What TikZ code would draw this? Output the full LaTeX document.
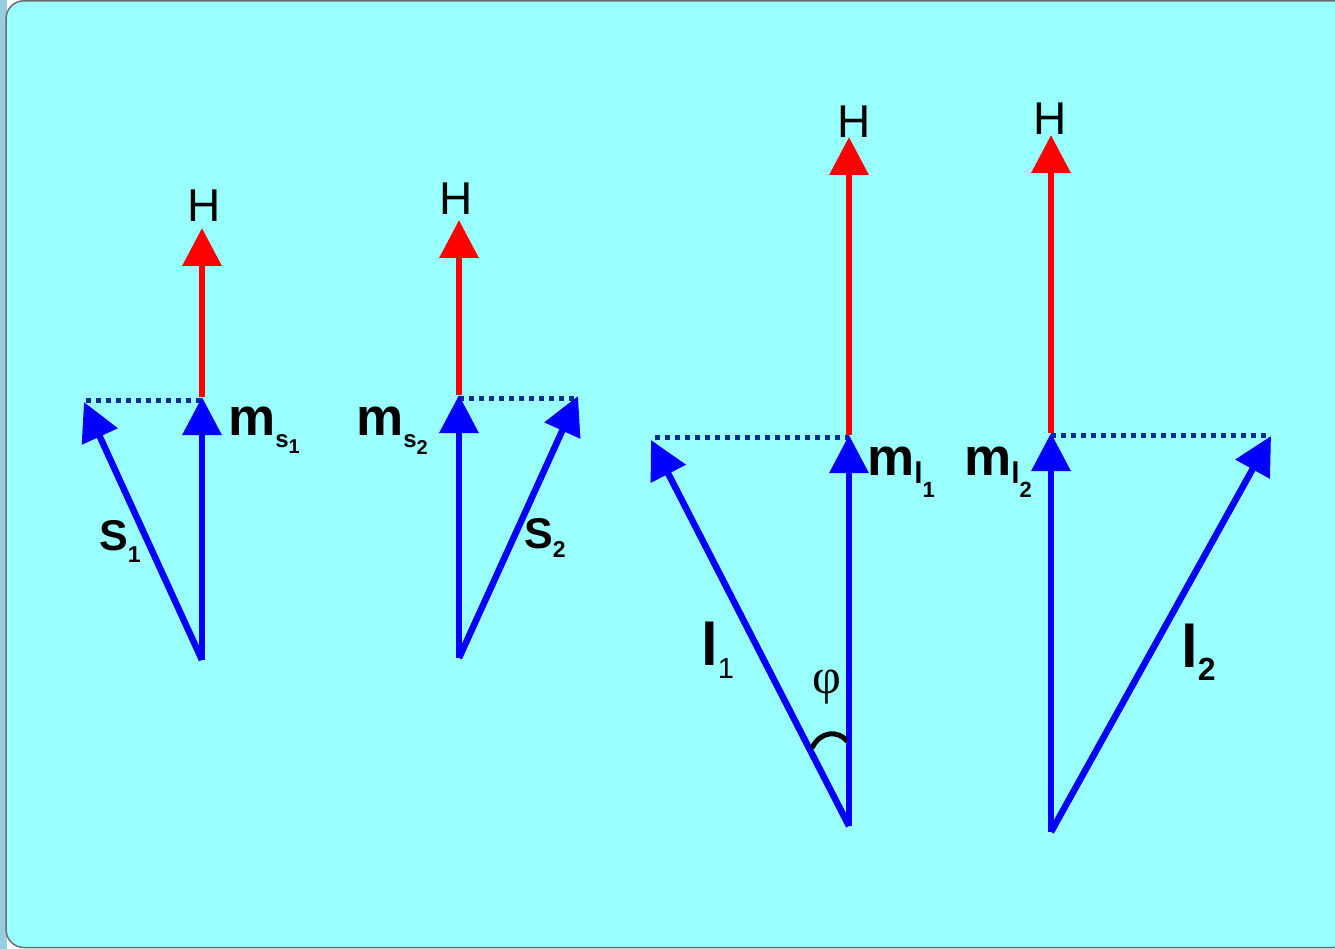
\documentclass[tikz,border=0pt]{standalone}
\usepackage{fontspec}
\setmainfont{Liberation Sans}
\newfontfamily\phifont{Liberation Serif}
\usetikzlibrary{arrows.meta}
\definecolor{bg}{RGB}{153,255,255}
\definecolor{vblue}{RGB}{0,0,255}
\definecolor{hred}{RGB}{255,0,0}
\definecolor{dotblue}{RGB}{0,45,150}
\definecolor{strip}{RGB}{150,205,225}
\definecolor{frame}{RGB}{110,110,110}
\newcommand{\fsz}[1]{\fontsize{#1}{#1}\selectfont}
\begin{document}
\begin{tikzpicture}[x=1pt,y=-1pt,
  vec/.style={line width=6.5pt,-{Triangle[width=38pt,length=38pt]}},
  bvec/.style={vec,draw=vblue,fill=vblue},
  rvec/.style={vec,draw=hred,fill=hred},
  proj/.style={draw=dotblue,line width=5pt,dash pattern=on 5pt off 5pt},
  lbl/.style={inner sep=0pt,anchor=base west,text=black},
  hlbl/.style={inner sep=0pt,anchor=base,text=black,font=\fsz{46}},
  angarc/.style={draw=black,line width=5pt}]
\useasboundingbox (0,0) rectangle (1335,949);
\fill[white] (0,0) rectangle (1335,949);
\fill[strip] (0,0) rectangle (7,949);
\draw[frame,line width=1.5pt,fill=bg,rounded corners=18pt] (6,0.8) rectangle (1352,947.5);

% ---------- group 1 : s1
\coordinate (o1) at (202,660);
\coordinate (m1) at (202,397);
\coordinate (h1) at (202,228);
\coordinate (s1) at (84,402);
\coordinate (d1a) at (86,400);
\coordinate (d1b) at (202,400);
\draw[proj] (d1a) -- (d1b);
\draw[rvec] (m1) -- (h1);
\draw[bvec] (o1) -- (m1);
\draw[bvec] (o1) -- (s1);
\node[hlbl] (H1) at (204,222) {H};
\node[lbl] (ms1) at (228,435) {\fsz{53}\bfseries m\raisebox{-12pt}{\fsz{24}s\raisebox{-6pt}{\fsz{20}1}}};
\node[lbl] (S1) at (99,550) {\fsz{43}\bfseries S\raisebox{-12pt}{\fsz{23}1}};

% ---------- group 2 : s2
\coordinate (o2) at (459,658);
\coordinate (m2) at (459,395);
\coordinate (h2) at (459,220);
\coordinate (s2) at (578,396);
\coordinate (d2a) at (459,398);
\coordinate (d2b) at (577,398);
\draw[proj] (d2a) -- (d2b);
\draw[rvec] (m2) -- (h2);
\draw[bvec] (o2) -- (m2);
\draw[bvec] (o2) -- (s2);
\node[hlbl] (H2) at (456,215) {H};
\node[lbl] (ms2) at (356,435) {\fsz{53}\bfseries m\raisebox{-12pt}{\fsz{24}s\raisebox{-7pt}{\fsz{20}2}}};
\node[lbl] (S2) at (524,548) {\fsz{43}\bfseries S\raisebox{-9pt}{\fsz{23}2}};

% ---------- group 3 : l1
\coordinate (o3) at (849,826);
\coordinate (m3) at (849,435);
\coordinate (h3) at (849,137);
\coordinate (s3) at (651,440);
\coordinate (d3a) at (655,437);
\coordinate (d3b) at (849,437);
\draw[proj] (d3a) -- (d3b);
\draw[rvec] (m3) -- (h3);
\draw[bvec] (o3) -- (m3);
\draw[bvec] (o3) -- (s3);
\node[hlbl] (H3) at (854,138) {H};
\node[lbl] (ml1) at (867,475) {\fsz{53}\bfseries m\raisebox{-8pt}{\fsz{30}l\raisebox{-14pt}{\fsz{22}1}}};
\node[lbl] (l1) at (701,665) {\fsz{60}\bfseries l\raisebox{-13pt}{\fsz{29}\mdseries 1}};
\node[inner sep=0pt,text=black,font=\fsz{50}\phifont] (phi) at (827,687) {φ};
\coordinate (a1) at (812,748);
\coordinate (a2) at (847,741);
\draw[angarc] (a1) .. controls (820,731) and (838,730) .. (a2);

% ---------- group 4 : l2
\coordinate (o4) at (1051,832);
\coordinate (m4) at (1051,433);
\coordinate (h4) at (1051,135);
\coordinate (s4) at (1271,436);
\coordinate (d4a) at (1051,435);
\coordinate (d4b) at (1268,435);
\draw[proj] (d4a) -- (d4b);
\draw[rvec] (m4) -- (h4);
\draw[bvec] (o4) -- (m4);
\draw[bvec] (o4) -- (s4);
\node[hlbl] (H4) at (1050,135) {H};
\node[lbl] (ml2) at (964,475) {\fsz{53}\bfseries m\raisebox{-8pt}{\fsz{30}l\raisebox{-14pt}{\fsz{22}2}}};
\node[lbl] (l2) at (1181,667) {\fsz{60}\bfseries l\raisebox{-13pt}{\fsz{32}2}};
\end{tikzpicture}
\end{document}
